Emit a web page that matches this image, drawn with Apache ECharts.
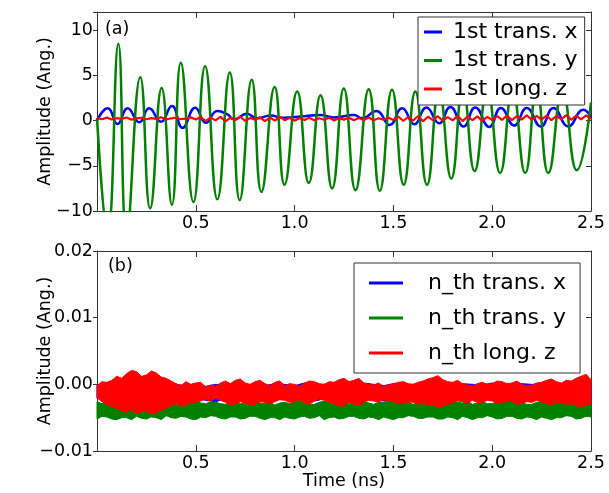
<!DOCTYPE html>
<html>
<head>
<meta charset="utf-8">
<script src="https://cdn.jsdelivr.net/npm/echarts@6/dist/echarts.min.js"></script>
<style>
  html, body { margin: 0; padding: 0; background: #fff; }
  #chart { width: 609px; height: 493px; }
</style>
</head>
<body>
<div id="chart"></div>
<script>
// (a) first mode, extrema: time (ns) / amplitude (Ang.)
const transXTime = [0.000, 0.054, 0.104, 0.155, 0.214, 0.264, 0.323, 0.379, 0.433, 0.497,
  0.551, 0.609, 0.660, 0.694, 0.758, 0.810, 0.879, 0.938, 0.980, 1.030,
  1.131, 1.197, 1.300, 1.342, 1.414, 1.481, 1.544, 1.606, 1.667, 1.732,
  1.788, 1.855, 1.914, 1.985, 2.044, 2.111, 2.175, 2.246, 2.310, 2.385,
  2.461, 2.500]
const transXAmp = [0.0, 1.35, -0.39, 1.35, -0.2, 1.35, -0.14, 1.6, -0.8, 1.42,
  -0.24, 1.05, 0.68, 0.13, 0.75, 0.24, 0.57, 0.3, 0.35, 0.45,
  0.6, 0.35, 0.6, 0.25, 1.05, -0.5, 1.35, -0.4, 1.45, -0.3,
  1.5, -0.65, 1.45, -0.7, 1.4, -0.55, 1.4, -0.65, 1.4, -0.65,
  1.2, 0.4]

const transYTime = [0.000, 0.054, 0.108, 0.150, 0.219, 0.269, 0.327, 0.379, 0.424, 0.488,
  0.547, 0.609, 0.672, 0.722, 0.783, 0.832, 0.899, 0.949, 1.013, 1.072,
  1.131, 1.190, 1.249, 1.308, 1.375, 1.431, 1.493, 1.552, 1.611, 1.670,
  1.731, 1.793, 1.852, 1.911, 1.975, 2.040, 2.103, 2.167, 2.225, 2.284,
  2.356, 2.428, 2.500]
const transYAmp = [0.3, -12.5, 8.5, -12.5, 4.8, -9.7, 3.6, -9.3, 6.4, -9.0,
  6.0, -8.7, 5.3, -8.8, 4.5, -7.9, 3.7, -7.1, 3.2, -6.9,
  2.8, -7.5, 3.55, -7.7, 3.45, -7.75, 3.4, -7.1, 3.2, -7.1,
  3.4, -6.4, 3.6, -5.6, 3.5, -5.8, 3.4, -5.8, 3.5, -5.8,
  3.3, -5.5, 2.0]

// long. z, sampled every 0.025 ns
const longZStep = 0.025
const longZAmp = [0.28, 0.15, 0.32, 0.12, 0.26, 0.18, 0.34, 0.10, 0.24, 0.30,
  0.14, 0.27, 0.19, 0.36, 0.12, 0.25, 0.31, 0.15, 0.22, 0.35, 0.11,
  0.38, -0.05, 0.32, 0.02, 0.40, -0.08, 0.30, 0.05, 0.42, -0.04,
  0.28, 0.08, 0.36, -0.06, 0.33, 0.00, 0.41, 0.04, 0.30, -0.02,
  0.28, 0.05, 0.30, 0.02, 0.26, 0.08, 0.32, 0.00, 0.27, 0.10,
  0.31, 0.04, 0.29, 0.06, 0.33, 0.03, 0.25, 0.09, 0.30, 0.05,
  0.45, -0.05, 0.40, 0.00, 0.50, -0.08, 0.42, 0.05, 0.48, -0.02,
  0.38, 0.02, 0.52, -0.06, 0.44, 0.04, 0.46, -0.03, 0.40, 0.06,
  0.50, 0.08, 0.55, 0.05, 0.48, 0.12, 0.58, 0.06, 0.52, 0.10,
  0.56, 0.04, 0.50, 0.14, 0.60, 0.08, 0.54, 0.12, 0.58, 0.20]

// (b) n-th mode, noise envelopes (low / high edge of each band)
const coarseStep = 0.05
const nthXHi = [0.0000, -0.0002, 0.0001, -0.0001, 0.0000, -0.0003, 0.0001, -0.0001, 0.0000, -0.0002,
  0.0001, -0.0003, 0.0000, -0.0001, 0.0002, -0.0001, 0.0000, -0.0002, 0.0001, 0.0000,
  -0.0002, 0.0002, -0.0001, 0.0000, -0.0002, 0.0001, -0.0001, 0.0002, 0.0000, -0.0002,
  0.0001, -0.0001, 0.0000, 0.0002, -0.0001, 0.0000, -0.0002, 0.0001, 0.0000, -0.0001,
  0.0002, 0.0000, -0.0002, 0.0001, 0.0000, -0.0001, 0.0002, 0.0000, -0.0001, 0.0001,
  0.0000]
const nthXLo = [-0.0021, -0.0023, -0.0020, -0.0024, -0.0022, -0.0021, -0.0025, -0.0022, -0.0020, -0.0023,
  -0.0021, -0.0024, -0.0026, -0.0022, -0.0020, -0.0023, -0.0021, -0.0024, -0.0022, -0.0020,
  -0.0023, -0.0021, -0.0025, -0.0022, -0.0020, -0.0023, -0.0024, -0.0021, -0.0022, -0.0025,
  -0.0021, -0.0023, -0.0020, -0.0022, -0.0024, -0.0021, -0.0023, -0.0025, -0.0022, -0.0020,
  -0.0023, -0.0021, -0.0024, -0.0022, -0.0020, -0.0023, -0.0025, -0.0021, -0.0022, -0.0024,
  -0.0021]

const fineStep = 0.025
const nthYHi = [-0.0026, -0.0029, -0.0028, -0.0025, -0.0025, -0.0028, -0.0029, -0.0026, -0.0027, -0.0029,
  -0.0030, -0.0027, -0.0026, -0.0029, -0.0028, -0.0026, -0.0031, -0.0028, -0.0027, -0.0024,
  -0.0025, -0.0028, -0.0029, -0.0026, -0.0027, -0.0029, -0.0030, -0.0027, -0.0026, -0.0029,
  -0.0028, -0.0025, -0.0025, -0.0028, -0.0029, -0.0027, -0.0031, -0.0028, -0.0027, -0.0029,
  -0.0026, -0.0024, -0.0028, -0.0030, -0.0030, -0.0027, -0.0025, -0.0028, -0.0028, -0.0026,
  -0.0027, -0.0030, -0.0029, -0.0026, -0.0026, -0.0028, -0.0030, -0.0027, -0.0027, -0.0024,
  -0.0025, -0.0029, -0.0028, -0.0026, -0.0030, -0.0027, -0.0026, -0.0029, -0.0029, -0.0026,
  -0.0027, -0.0030, -0.0025, -0.0027, -0.0028, -0.0025, -0.0030, -0.0028, -0.0026, -0.0029,
  -0.0029, -0.0026, -0.0027, -0.0024, -0.0025, -0.0028, -0.0028, -0.0030, -0.0030, -0.0027,
  -0.0026, -0.0029, -0.0028, -0.0025, -0.0027, -0.0029, -0.0029, -0.0027, -0.0026, -0.0028,
  -0.0027]
const nthYLo = [-0.0052, -0.0048, -0.0049, -0.0052, -0.0053, -0.0050, -0.0050, -0.0053, -0.0048, -0.0051,
  -0.0052, -0.0049, -0.0050, -0.0053, -0.0047, -0.0050, -0.0051, -0.0048, -0.0049, -0.0052,
  -0.0053, -0.0049, -0.0050, -0.0047, -0.0048, -0.0051, -0.0052, -0.0049, -0.0049, -0.0052,
  -0.0051, -0.0048, -0.0048, -0.0051, -0.0053, -0.0050, -0.0050, -0.0053, -0.0049, -0.0051,
  -0.0052, -0.0049, -0.0048, -0.0051, -0.0050, -0.0047, -0.0053, -0.0050, -0.0049, -0.0052,
  -0.0051, -0.0048, -0.0048, -0.0051, -0.0052, -0.0049, -0.0050, -0.0053, -0.0049, -0.0051,
  -0.0053, -0.0050, -0.0050, -0.0047, -0.0048, -0.0051, -0.0051, -0.0049, -0.0049, -0.0052,
  -0.0052, -0.0049, -0.0050, -0.0053, -0.0048, -0.0050, -0.0053, -0.0050, -0.0050, -0.0047,
  -0.0049, -0.0052, -0.0051, -0.0048, -0.0048, -0.0051, -0.0052, -0.0049, -0.0050, -0.0053,
  -0.0049, -0.0051, -0.0053, -0.0050, -0.0050, -0.0047, -0.0048, -0.0052, -0.0051, -0.0048,
  -0.0049]
const nthZHi = [-0.0002, 0.0004, 0.0003, 0.0006, 0.0012, 0.0009, 0.0016, 0.0021, 0.0019, 0.0012,
  0.0014, 0.0020, 0.0017, 0.0011, 0.0009, 0.0005, 0.0001, -0.0002, 0.0004, 0.0000,
  0.0002, 0.0003, -0.0004, -0.0001, -0.0003, 0.0002, 0.0005, 0.0001, 0.0006, 0.0008,
  0.0002, 0.0000, 0.0004, 0.0006, 0.0001, -0.0002, 0.0003, 0.0005, -0.0002, 0.0001,
  0.0000, -0.0003, 0.0002, 0.0005, 0.0004, 0.0001, 0.0000, 0.0004, 0.0003, 0.0007,
  0.0009, 0.0004, 0.0006, 0.0009, 0.0002, 0.0000, -0.0001, 0.0002, -0.0003, -0.0001,
  0.0001, 0.0003, 0.0004, 0.0001, 0.0000, 0.0003, 0.0005, 0.0008, 0.0010, 0.0013,
  0.0007, 0.0004, 0.0003, 0.0006, 0.0001, -0.0001, -0.0002, 0.0001, 0.0003, 0.0000,
  0.0001, 0.0005, 0.0004, 0.0001, 0.0002, 0.0005, 0.0000, -0.0002, -0.0001, 0.0002,
  0.0003, 0.0006, 0.0008, 0.0004, 0.0002, 0.0006, 0.0005, 0.0009, 0.0012, 0.0015,
  0.0007]
const nthZLo = [-0.0020, -0.0026, -0.0030, -0.0034, -0.0036, -0.0040, -0.0042, -0.0038, -0.0044, -0.0041,
  -0.0040, -0.0045, -0.0043, -0.0039, -0.0036, -0.0032, -0.0029, -0.0033, -0.0031, -0.0028,
  -0.0027, -0.0025, -0.0022, -0.0025, -0.0021, -0.0024, -0.0027, -0.0031, -0.0030, -0.0026,
  -0.0028, -0.0031, -0.0030, -0.0026, -0.0027, -0.0029, -0.0026, -0.0023, -0.0024, -0.0027,
  -0.0026, -0.0023, -0.0028, -0.0030, -0.0025, -0.0022, -0.0024, -0.0027, -0.0029, -0.0033,
  -0.0032, -0.0028, -0.0030, -0.0032, -0.0027, -0.0024, -0.0025, -0.0027, -0.0023, -0.0025,
  -0.0026, -0.0029, -0.0029, -0.0026, -0.0027, -0.0030, -0.0028, -0.0032, -0.0031, -0.0035,
  -0.0033, -0.0030, -0.0028, -0.0025, -0.0026, -0.0028, -0.0024, -0.0027, -0.0027, -0.0024,
  -0.0025, -0.0029, -0.0028, -0.0025, -0.0026, -0.0030, -0.0029, -0.0026, -0.0027, -0.0024,
  -0.0026, -0.0029, -0.0031, -0.0028, -0.0027, -0.0031, -0.0029, -0.0032, -0.0034, -0.0031,
  -0.0030]

const xTicks = [0.5, 1.0, 1.5, 2.0, 2.5]

const BLUE = '#0000ff', GREEN = '#008000', RED = '#ff0000'
const FONT = 'DejaVu Sans'

const pairs = (ts, vs) => ts.map((t, i) => [t, vs[i]])
const stepped = (step, vs) => vs.map((v, i) => [+(i * step).toFixed(4), v])

function minus(s) { return s.replace('-', '\u2212') }

function xAxisPair(grid, withLabels, name) {
  const common = {
    gridIndex: grid, type: 'value', min: 0, max: 2.5, interval: 0.5,
    splitLine: { show: false },
    axisLine: { show: true, onZero: false, lineStyle: { color: '#333', width: 1 } },
    axisTick: { show: true, inside: true, length: 6, lineStyle: { color: '#333' } }
  }
  return [
    Object.assign({}, common, {
      position: 'bottom',
      name: name || '', nameLocation: 'middle', nameGap: 19,
      nameTextStyle: { fontFamily: FONT, fontSize: 17.5, color: '#000' },
      axisLabel: {
        show: withLabels, margin: 3, fontFamily: FONT, fontSize: 17.5, color: '#000',
        formatter: v => xTicks.indexOf(+v.toFixed(2)) >= 0 ? v.toFixed(1) : ''
      }
    }),
    Object.assign({}, common, { position: 'top', axisLabel: { show: false } })
  ]
}

function yAxisPair(grid, min, max, interval, fmt) {
  const common = {
    gridIndex: grid, type: 'value', min: min, max: max, interval: interval,
    splitLine: { show: false },
    axisLine: { show: true, onZero: false, lineStyle: { color: '#333', width: 1 } }
  }
  return [
    Object.assign({}, common, {
      position: 'left',
      name: 'Amplitude (Ang.)', nameLocation: 'middle', nameGap: 43, nameMoveOverlap: false,
      nameTextStyle: { fontFamily: FONT, fontSize: 17.5, color: '#000' },
      axisTick: { show: true, inside: false, length: 4, lineStyle: { color: '#333' } },
      axisLabel: { margin: 4, fontFamily: FONT, fontSize: 17.5, color: '#000', formatter: fmt }
    }),
    Object.assign({}, common, {
      position: 'right',
      axisTick: { show: true, inside: true, length: 5, lineStyle: { color: '#333' } },
      axisLabel: { show: false }
    })
  ]
}

// noise band drawn as one polygon between the low and high envelopes
function band(name, color, step, lo, hi) {
  return {
    name: name, type: 'custom', xAxisIndex: 2, yAxisIndex: 2, silent: true,
    itemStyle: { color: color },
    encode: { x: 0, y: [1, 2] },
    data: lo.map((v, i) => [+(i * step).toFixed(4), v, hi[i]]),
    renderItem: (params, api) => {
      if (params.dataIndex !== 0) return null
      const up = hi.map((v, i) => api.coord([i * step, v]))
      const dn = lo.map((v, i) => api.coord([i * step, v])).reverse()
      return {
        type: 'polygon',
        shape: { points: up.concat(dn) },
        style: { fill: color, stroke: color, lineWidth: 1 }
      }
    }
  }
}

const legendCommon = {
  orient: 'vertical', icon: 'rect', itemHeight: 3,
  backgroundColor: '#fff', borderColor: '#333', borderWidth: 1, borderRadius: 0,
  selectedMode: false,
  itemStyle: { borderWidth: 0 },
  textStyle: { fontFamily: FONT, fontSize: 22, color: '#000', lineHeight: 24 }
}

const chart = echarts.init(document.getElementById('chart'), null, { renderer: 'canvas' })

chart.setOption({
  animation: false,
  backgroundColor: '#fff',
  textStyle: { fontFamily: FONT },
  grid: [
    { left: 97, right: 18, top: 12, height: 199 },
    { left: 97, right: 18, top: 251, height: 200 }
  ],
  xAxis: [].concat(xAxisPair(0, true), xAxisPair(1, true, 'Time (ns)')),
  yAxis: [].concat(
    yAxisPair(0, -10, 12, 5, v => (v % 5 === 0 ? minus(String(v)) : '')),
    yAxisPair(1, -0.01, 0.02, 0.01, v => minus(v.toFixed(2)))
  ),
  legend: [
    Object.assign({}, legendCommon, {
      left: 418, top: 17, padding: [3, 7, 4, 6],
      itemWidth: 18, itemGap: 4.5,
      textStyle: Object.assign({}, legendCommon.textStyle, { padding: [0, 0, 0, 6] }),
      data: [
        { name: '1st trans. x', itemStyle: { color: BLUE } },
        { name: '1st trans. y', itemStyle: { color: GREEN } },
        { name: '1st long. z', itemStyle: { color: RED } }
      ]
    }),
    Object.assign({}, legendCommon, {
      left: 354, top: 263, padding: [8, 14, 8, 15],
      itemWidth: 34, itemGap: 11,
      textStyle: Object.assign({}, legendCommon.textStyle, { padding: [0, 0, 0, 20] }),
      data: [
        { name: 'n_th trans. x', itemStyle: { color: BLUE } },
        { name: 'n_th trans. y', itemStyle: { color: GREEN } },
        { name: 'n_th long. z', itemStyle: { color: RED } }
      ]
    })
  ],
  graphic: [
    { type: 'text', left: 105, top: 20, style: { text: '(a)', font: '17.5px "DejaVu Sans"', fill: '#000' } },
    { type: 'text', left: 108, top: 257, style: { text: '(b)', font: '17.5px "DejaVu Sans"', fill: '#000' } }
  ],
  series: [
    {
      name: '1st trans. x', type: 'line', xAxisIndex: 0, yAxisIndex: 0,
      smooth: 0.5, symbol: 'none',
      itemStyle: { color: BLUE }, lineStyle: { color: BLUE, width: 2.5 },
      data: pairs(transXTime, transXAmp)
    },
    {
      name: '1st trans. y', type: 'line', xAxisIndex: 0, yAxisIndex: 0,
      smooth: 0.5, symbol: 'none',
      itemStyle: { color: GREEN }, lineStyle: { color: GREEN, width: 2.5 },
      data: pairs(transYTime, transYAmp)
    },
    {
      name: '1st long. z', type: 'line', xAxisIndex: 0, yAxisIndex: 0,
      symbol: 'none',
      itemStyle: { color: RED }, lineStyle: { color: RED, width: 2.2 },
      data: stepped(longZStep, longZAmp)
    },
    band('n_th trans. x', BLUE, coarseStep, nthXLo, nthXHi),
    band('n_th trans. y', GREEN, fineStep, nthYLo, nthYHi),
    band('n_th long. z', RED, fineStep, nthZLo, nthZHi)
  ]
})
</script>
</body>
</html>
